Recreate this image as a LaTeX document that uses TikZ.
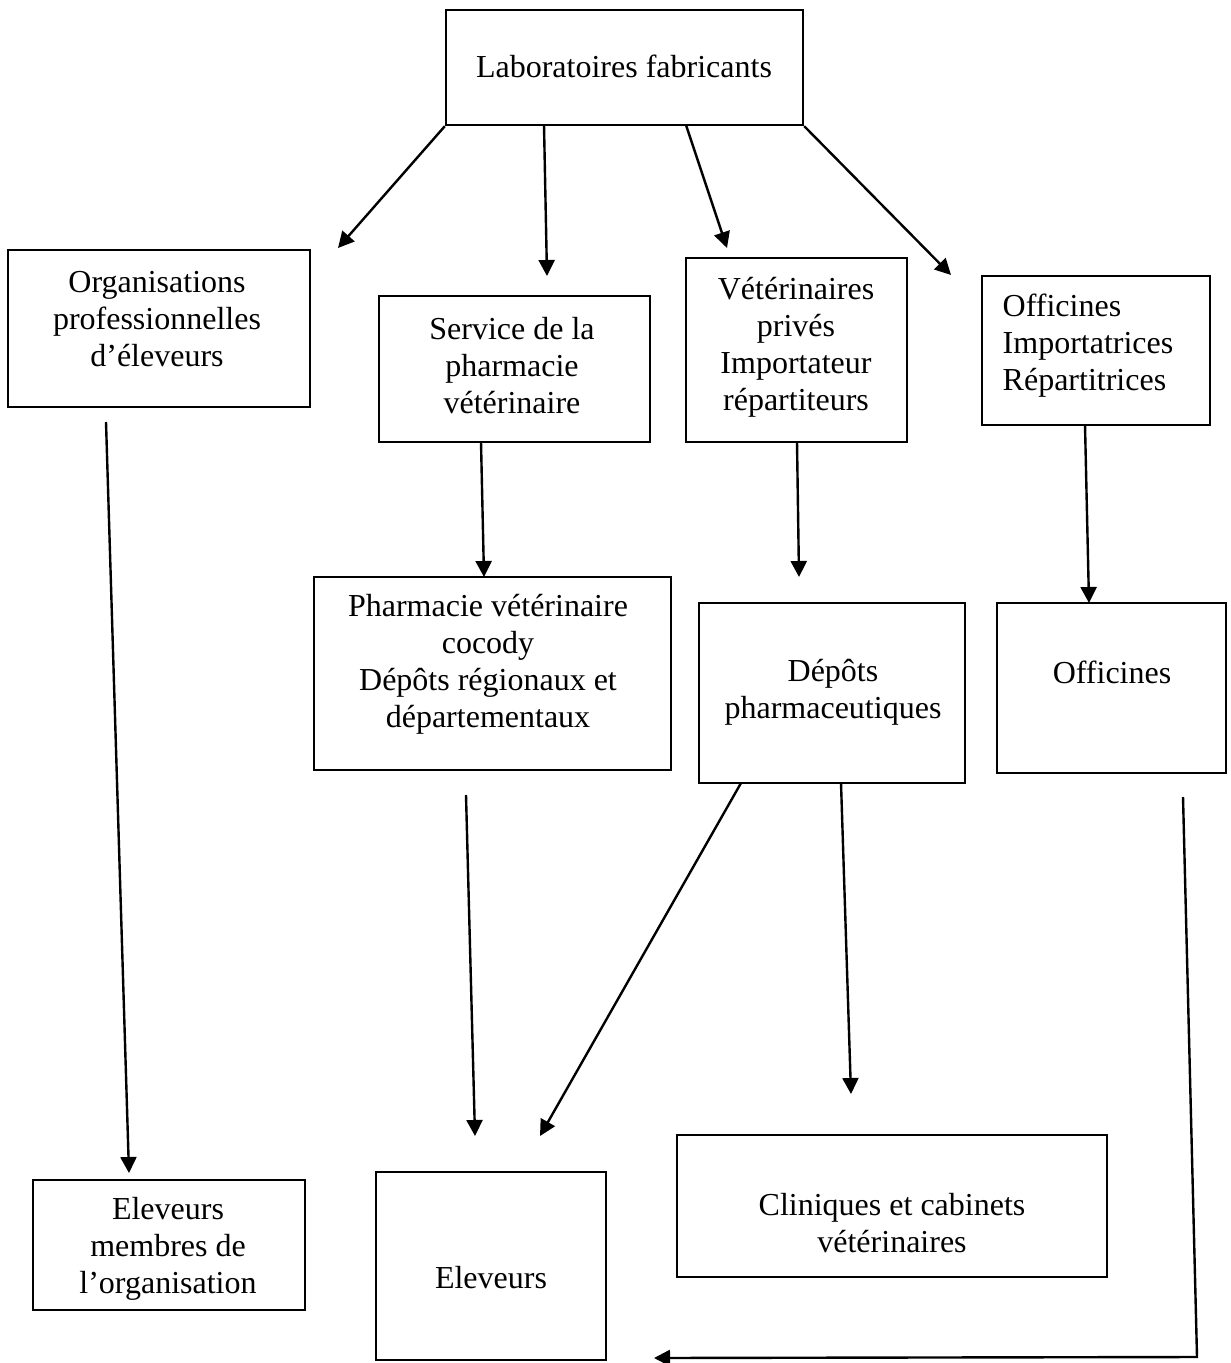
\documentclass[tikz,border=0pt]{standalone}
\usepackage{fontspec}
\setmainfont{Liberation Serif}
\usetikzlibrary{arrows.meta}
\begin{document}
\begin{tikzpicture}[x=0.5pt,y=-0.5pt,
  box/.style={draw,line width=1.2pt,inner sep=0pt,rectangle},
  txt/.style={align=center,font=\fontsize{16pt}{18.5pt}\selectfont,inner sep=0pt},
  txtl/.style={align=left,font=\fontsize{16pt}{18.5pt}\selectfont,inner sep=0pt},
  arr/.style={line width=1.2pt,-{Triangle[length=8pt,width=8pt]}}]
\useasboundingbox (0,0) rectangle (1230,1363);
% boxes
\node[box,minimum width=178.5pt,minimum height=57.5pt] (lab) at (624.5,67.5) {};
\node[box,minimum width=151pt,minimum height=78.5pt] (org) at (159,328.5) {};
\node[box,minimum width=135.5pt,minimum height=73pt] (svc) at (514.5,369) {};
\node[box,minimum width=110.5pt,minimum height=92pt] (vet) at (796.5,350) {};
\node[box,minimum width=114pt,minimum height=74.5pt] (offimp) at (1096,350.5) {};
\node[box,minimum width=178.5pt,minimum height=96.5pt] (phv) at (492.5,673.5) {};
\node[box,minimum width=133pt,minimum height=90pt] (dep) at (832,693) {};
\node[box,minimum width=114.5pt,minimum height=85pt] (off) at (1111.5,688) {};
\node[box,minimum width=136pt,minimum height=65pt] (elm) at (169,1245) {};
\node[box,minimum width=115pt,minimum height=94pt] (elv) at (491,1266) {};
\node[box,minimum width=215pt,minimum height=71pt] (cli) at (892,1206) {};
% texts
\node[txt] (labt) at (624,66) {Laboratoires fabricants};
\node[txt] (orgt) at (157,319) {Organisations\\professionnelles\\d’éleveurs};
\node[txt] (svct) at (512,366) {Service de la\\pharmacie\\vétérinaire};
\node[txt] (vett) at (796,347) {Vétérinaires\\privés\\Importateur\\répartiteurs};
\node[txtl] (offimpt) at (1088,346) {Officines\\Importatrices\\Répartitrices};
\node[txt] (phvt) at (488,664) {Pharmacie vétérinaire\\cocody\\Dépôts régionaux et\\départementaux};
\node[txt] (dept) at (833,692) {Dépôts\\pharmaceutiques};
\node[txt] (offt) at (1112,672) {Officines};
\node[txt] (elmt) at (168,1249) {Eleveurs\\membres de\\l’organisation};
\node[txt] (elvt) at (491,1278) {Eleveurs};
\node[txt] (clit) at (892,1223) {Cliniques et cabinets\\vétérinaires};
% connector ends
\coordinate (a1e) at (338,248);
\coordinate (a2s) at (544,125);
\coordinate (a2e) at (547,276);
\coordinate (a3s) at (686,125);
\coordinate (a3e) at (727,248);
\coordinate (a4e) at (951,275);
\coordinate (a5s) at (106,422);
\coordinate (a5e) at (129,1173);
\coordinate (a6s) at (481,442);
\coordinate (a6e) at (484,577);
\coordinate (a7s) at (797,442);
\coordinate (a7e) at (799,577);
\coordinate (a8s) at (1085,425);
\coordinate (a8e) at (1089,603);
\coordinate (a9s) at (466,795);
\coordinate (a9e) at (475,1136);
\coordinate (a10s) at (741,783);
\coordinate (a10e) at (540,1136);
\coordinate (a11s) at (841,783);
\coordinate (a11e) at (851,1094);
\coordinate (a12s) at (1183,797);
\coordinate (a12m) at (1197,1357);
\coordinate (a12e) at (654,1358);
% connectors
\draw[arr] (lab.south west) -- (a1e);
\draw[arr] (a2s) -- (a2e);
\draw[arr] (a3s) -- (a3e);
\draw[arr] (lab.south east) -- (a4e);
\draw[arr] (a5s) -- (a5e);
\draw[arr] (a6s) -- (a6e);
\draw[arr] (a7s) -- (a7e);
\draw[arr] (a8s) -- (a8e);
\draw[arr] (a9s) -- (a9e);
\draw[arr] (a10s) -- (a10e);
\draw[arr] (a11s) -- (a11e);
\draw[arr] (a12s) -- (a12m) -- (a12e);
\end{tikzpicture}
\end{document}
